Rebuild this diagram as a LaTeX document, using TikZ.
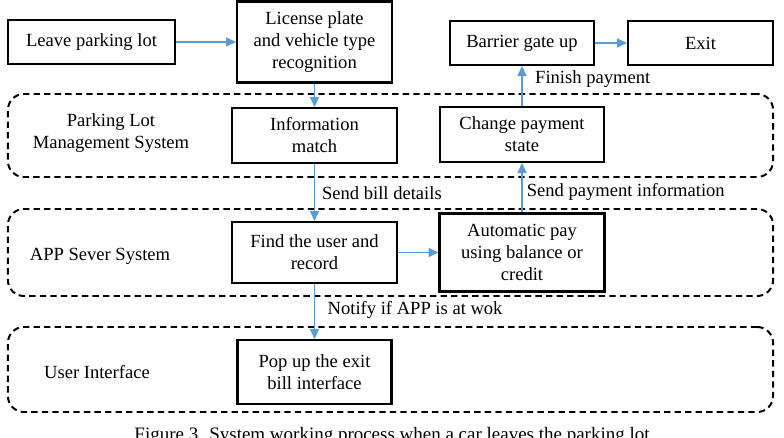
\documentclass[tikz,border=0pt]{standalone}
\usepackage{fontspec}
\setmainfont{Liberation Serif}
\usetikzlibrary{arrows.meta}
\definecolor{flowblue}{HTML}{5B9BD5}
\newcommand{\flowtext}{\fontsize{13.2}{15.6}\selectfont}

\tikzset{
  stepbox/.style={draw, line width=1.5pt, align=center, inner sep=2pt, font=\flowtext},
  lane/.style={draw, dashed, dash pattern=on 4.5pt off 3pt, line width=1.4pt,
               rounded corners=4mm, minimum width=19.125cm},
  lanelabel/.style={align=center, font=\flowtext},
  flow/.style={draw=flowblue, line width=0.8pt, -{Triangle[length=7pt,width=6.5pt]}},
  flowlabel/.style={font=\flowtext, inner sep=3pt}
}

\begin{document}
\begin{tikzpicture}[x=0.025cm, y=-0.025cm]
\useasboundingbox (0,0) rectangle (784,438);

% the three system lanes
\node[lane, minimum height=2.075cm] (parkinglane) at (390.5,135.5) {};
\node[lane, minimum height=2.175cm] (serverlane) at (390.5,252.5) {};
\node[lane, minimum height=2.125cm] (userlane) at (390.5,369.5) {};

\node[lanelabel] (parkingname) at (111,133) {Parking Lot\\Management System};
\node[lanelabel] (servername) at (100,256) {APP Sever System};
\node[lanelabel] (username) at (97,372) {User Interface};

% process steps
\node[stepbox, minimum width=4.175cm, minimum height=1.1cm] (leave) at (91.5,42) {Leave parking lot};
\node[stepbox, minimum width=3.875cm, minimum height=2.025cm] (plate) at (314.5,42) {License plate\\and vehicle type\\recognition};
\node[stepbox, minimum width=3.6cm, minimum height=1.1cm] (barrier) at (522,43) {Barrier gate up};
\node[stepbox, minimum width=3.625cm, minimum height=1.1cm] (exit) at (700.5,43) {Exit};
\node[stepbox, minimum width=4.125cm, minimum height=1.375cm] (match) at (314.5,135.5) {Information\\match};
\node[stepbox, minimum width=4.1cm, minimum height=1.375cm] (change) at (522,134.5) {Change payment\\state};
\node[stepbox, minimum width=4.125cm, minimum height=1.525cm] (find) at (314.5,252.5) {Find the user and\\record};
\node[stepbox, minimum width=4.125cm, minimum height=1.95cm] (autopay) at (522,252.5) {Automatic pay\\using balance or\\credit};
\node[stepbox, minimum width=3.85cm, minimum height=1.6cm] (popup) at (314.5,372) {Pop up the exit\\bill interface};

% connectors
\draw[flow] (leave) -- (plate);
\draw[flow] (plate) -- (match);
\draw[flow] (match) -- node[flowlabel, right, pos=0.51, xshift=2pt] {Send bill details} (find);
\draw[flow] (find) -- (autopay);
\draw[flow] (find) -- node[flowlabel, right, pos=0.47, xshift=6pt] {Notify if APP is at wok} (popup);
\draw[flow] (autopay) -- node[flowlabel, right, pos=0.41] {Send payment information} (change);
\draw[flow] (change) -- node[flowlabel, right, pos=0.67, xshift=6pt] {Finish payment} (barrier);
\draw[flow] (barrier) -- (exit);

\node[font=\fontsize{13.5}{16}\selectfont, anchor=base] (caption) at (392,441) {Figure 3. System working process when a car leaves the parking lot};
\end{tikzpicture}
\end{document}
